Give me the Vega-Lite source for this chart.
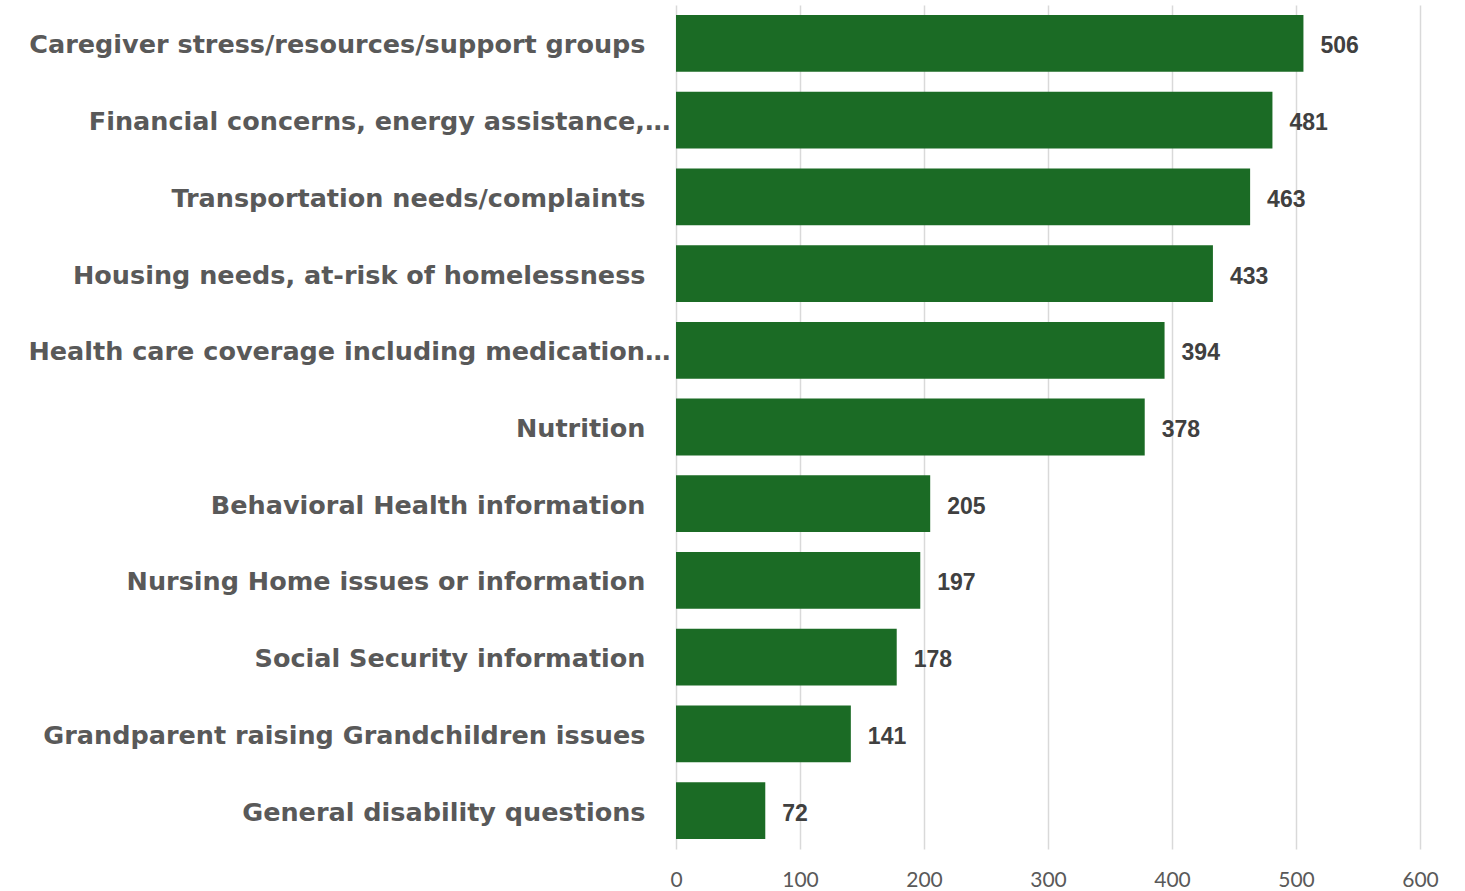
{
  "$schema": "https://vega.github.io/schema/vega-lite/v6.json",
  "width": 744,
  "height": 844,
  "autosize": {"type": "none"},
  "padding": {"left": 676, "top": 5, "right": 45, "bottom": 42},
  "background": "white",
  "config": {"view": {"stroke": null}},
  "data": {
    "values": [
      {"topic": "Caregiver stress/resources/support groups", "count": 506},
      {"topic": "Financial concerns, energy assistance,…", "count": 481},
      {"topic": "Transportation needs/complaints", "count": 463},
      {"topic": "Housing needs, at-risk of homelessness", "count": 433},
      {"topic": "Health care coverage including medication…", "count": 394},
      {"topic": "Nutrition", "count": 378},
      {"topic": "Behavioral Health information", "count": 205},
      {"topic": "Nursing Home issues or information", "count": 197},
      {"topic": "Social Security information", "count": 178},
      {"topic": "Grandparent raising Grandchildren issues", "count": 141},
      {"topic": "General disability questions", "count": 72}
    ]
  },
  "encoding": {
    "y": {
      "field": "topic",
      "type": "nominal",
      "sort": null,
      "title": null,
      "scale": {"paddingInner": 0.26, "paddingOuter": 0.13},
      "axis": {
        "domain": false,
        "ticks": false,
        "labelFont": "DejaVu Sans",
        "labelFontWeight": "bold",
        "labelFontSize": 25.5,
        "labelColor": "#595959",
        "labelPadding": {"condition": {"test": "indexof(datum.value, '…') >= 0", "value": 6}, "value": 31},
        "labelLimit": 700,
        "labelOffset": 2
      }
    },
    "x": {
      "field": "count",
      "type": "quantitative",
      "title": null,
      "scale": {"domain": [0, 600], "nice": false},
      "axis": {
        "values": [0, 100, 200, 300, 400, 500, 600],
        "domain": false,
        "ticks": false,
        "grid": true,
        "gridColor": "#d9d9d9",
        "gridWidth": 1.5,
        "labelFont": "Lato",
        "labelFontSize": 21,
        "labelColor": "#595959",
        "labelPadding": 20,
        "labelFlush": false
      }
    }
  },
  "layer": [
    {"mark": {"type": "bar", "color": "#1b6b25"}},
    {
      "mark": {
        "type": "text",
        "align": "left",
        "baseline": "middle",
        "dx": 17,
        "dy": 3,
        "font": "Liberation Sans",
        "fontWeight": "bold",
        "fontSize": 23,
        "color": "#404040"
      },
      "encoding": {"text": {"field": "count", "type": "quantitative"}}
    }
  ]
}
